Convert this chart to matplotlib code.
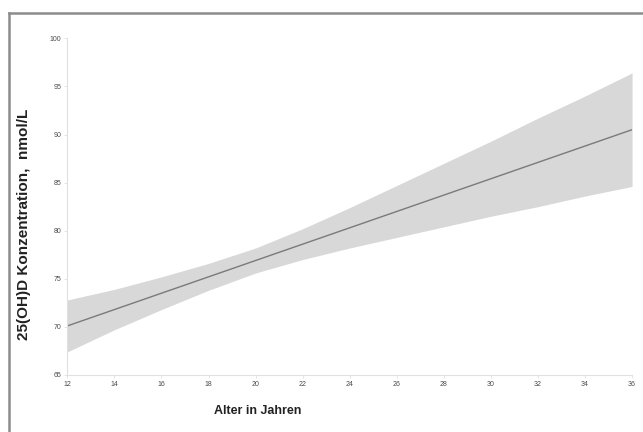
import matplotlib
matplotlib.use("Agg")
import matplotlib.pyplot as plt
from matplotlib.lines import Line2D

plt.rcParams["font.family"] = ["Liberation Sans", "DejaVu Sans"]

# Alter (Jahre) und 25(OH)D-Schätzung mit Konfidenzband
age = [12, 14, 16, 18, 20, 22, 24, 26, 28, 30, 32, 34, 36]
fit = [70.1, 71.8, 73.5, 75.2, 76.9, 78.6, 80.3, 82.0, 83.7, 85.4, 87.1, 88.8, 90.5]
upper = [72.8, 73.9, 75.2, 76.6, 78.2, 80.2, 82.4, 84.7, 87.0, 89.3, 91.7, 94.0, 96.4]
lower = [67.4, 69.7, 71.8, 73.8, 75.6, 77.0, 78.2, 79.3, 80.4, 81.5, 82.5, 83.6, 84.6]

x_ticks = list(range(12, 37, 2))
y_ticks = [65, 70, 75, 80, 85, 90, 95, 100]

fig = plt.figure(figsize=(6.43, 4.32), dpi=100)
ax = fig.add_axes([0.1047, 0.132, 0.8783, 0.7793])

ax.fill_between(age, lower, upper, color="#d8d8d8", lw=0)
ax.plot(age, fit, color="#7a7a7a", lw=1.0)

ax.set_xlim(12, 36)
ax.set_ylim(65, 100)
ax.set_xticks(x_ticks)
ax.set_yticks(y_ticks)
ax.tick_params(labelsize=5, colors="#e0e0e0", labelcolor="#4a4a4a",
               length=2, width=0.6, pad=2.5)
for s in ["top", "right"]:
    ax.spines[s].set_visible(False)
for s in ["left", "bottom"]:
    ax.spines[s].set_color("#e0e0e0")
    ax.spines[s].set_linewidth(0.8)

fig.text(258 / 643, 1 - 411 / 432, "Alter in Jahren", ha="center", va="center",
         fontsize=9, fontweight="bold", color="#222222")
fig.text(24 / 643, 1 - 224 / 432, "25(OH)D Konzentration,  nmol/L", ha="center",
         va="center", rotation=90, fontsize=11, fontweight="bold", color="#222222")

# outer frame (top and left only)
fig.add_artist(Line2D([9 / 643, 1], [1 - 13 / 432] * 2, color="#8c8c8c", lw=1.8,
                      transform=fig.transFigure))
fig.add_artist(Line2D([9 / 643] * 2, [0, 1 - 13 / 432], color="#8c8c8c", lw=1.8,
                      transform=fig.transFigure))

fig.savefig("out.png", dpi=100)
